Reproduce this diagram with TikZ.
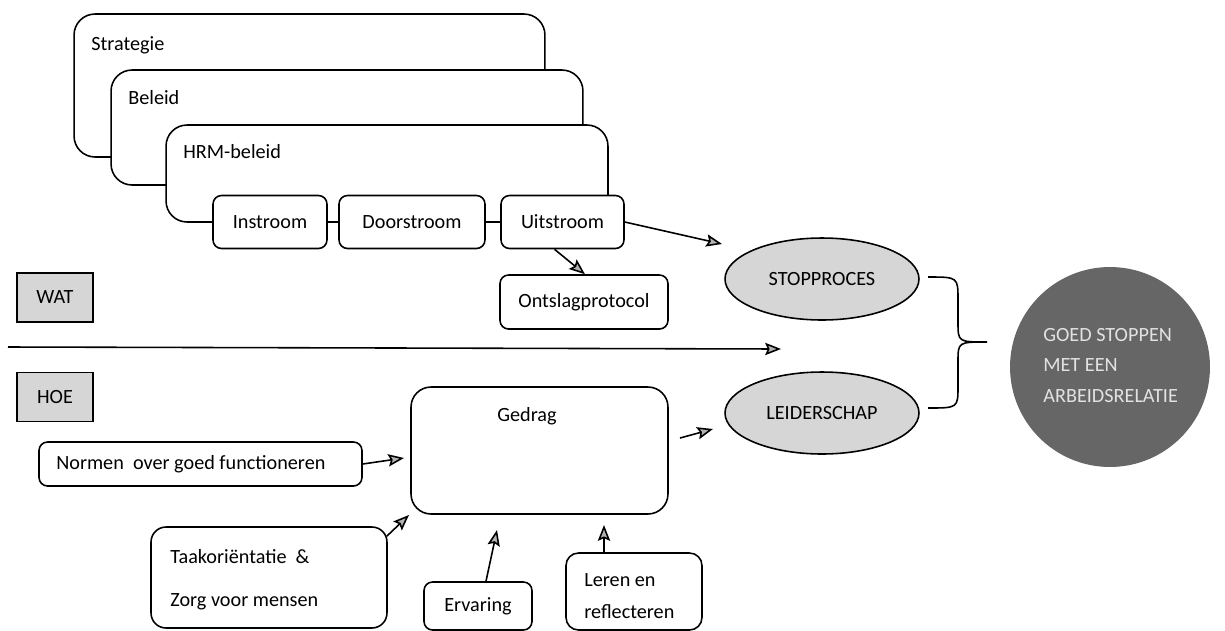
\documentclass[tikz,border=0pt]{standalone}
\usepackage{fontspec}
\setmainfont{Carlito}
\usetikzlibrary{shapes.geometric,arrows.meta,calc}
\definecolor{lgray}{HTML}{D6D6D6}
\definecolor{dgray}{HTML}{666666}
\definecolor{ctext}{HTML}{E2E2E2}
\tikzset{
  bigbox/.style={draw, line width=0.9pt, fill=white, rounded corners=0.42cm, inner sep=0pt},
  smallbox/.style={draw, line width=0.9pt, fill=white, rounded corners=0.17cm, inner sep=0pt},
  labbox/.style={draw, line width=0.9pt, fill=lgray, inner sep=0pt, minimum width=1.52cm, minimum height=0.98cm},
  oval/.style={draw, line width=0.9pt, ellipse, fill=lgray, inner sep=0pt, minimum width=3.88cm, minimum height=1.64cm},
  txt/.style={inner sep=0pt, anchor=west},
  conn/.style={line width=0.9pt},
  arr/.style={line width=0.9pt, -{Stealth[length=9pt,width=7pt,inset=1.5pt,fill=gray!60]}},
}
\begin{document}
\begin{tikzpicture}[x=0.02cm,y=-0.02cm, font=\fontsize{11.5}{13}\selectfont]
\useasboundingbox (0,0) rectangle (1225,630);
% stacked boxes
\node[bigbox, minimum width=9.42cm, minimum height=2.86cm] (strat) at (309.5,85.5) {};
\node[txt] (stratt) at (91,45) {Strategie};
\node[bigbox, minimum width=9.44cm, minimum height=2.3cm] (bel) at (347,127.5) {};
\node[txt] (belt) at (128,98) {Beleid};
\node[bigbox, minimum width=8.84cm, minimum height=1.94cm] (hrm) at (387,173.5) {};
\node[txt] (hrmt) at (183,152) {HRM-beleid};
% flow boxes
\node[smallbox, minimum width=2.28cm, minimum height=1.06cm] (inst) at (270,222) {Instroom};
\node[smallbox, minimum width=2.92cm, minimum height=1.06cm] (door) at (412,222) {Doorstroom};
\node[smallbox, minimum width=2.46cm, minimum height=1.06cm] (uit) at (562.5,222) {Uitstroom};
\draw[conn] (inst.east) -- (door.west);
\draw[conn] (door.east) -- (uit.west);
\node[smallbox, minimum width=3.36cm, minimum height=1.08cm] (ont) at (584,302) {Ontslagprotocol};
\draw[arr] ($(uit.south)+(-8,0)$) -- ($(ont.north)+(1,0)$);
% ellipses
\node[oval] (stop) at (822,279) {STOPPROCES};
\node[oval] (leid) at (822,413) {LEIDERSCHAP};
\coordinate (stoparr) at (722,244);
\draw[arr] (uit.east) -- (stoparr);
% WAT / HOE
\node[labbox] (wat) at (55,297.5) {WAT};
\node[labbox] (hoe) at (55,397) {HOE};
\coordinate (ls) at (8,347);
\coordinate (le) at (781,349);
\draw[arr] (ls) -- (le);
% brace
\coordinate (b1) at (928,277);
\coordinate (b2) at (928,408);
\coordinate (btip) at (987,342);
\draw[conn] (b1) .. controls (958,277) .. (958,300) -- (958,322) .. controls (958,342) .. (btip)
  .. controls (958,342) .. (958,362) -- (958,386) .. controls (958,408) .. (b2);
% circle
\node[circle, fill=dgray, minimum size=4.0cm, inner sep=0pt] (goal) at (1110,367) {};
\node[txt, text=ctext] (g1) at (1043,335) {GOED STOPPEN};
\node[txt, text=ctext] (g2) at (1043,365) {MET EEN};
\node[txt, text=ctext] (g3) at (1043,396) {ARBEIDSRELATIE};
% Gedrag
\node[smallbox, rounded corners=0.4cm, minimum width=5.14cm, minimum height=2.54cm] (ged) at (539.5,450.5) {};
\node (gedt) at (527,416) {Gedrag};
\coordinate (ga1) at (680,438);
\coordinate (ga2) at (713,429);
\draw[arr] (ga1) -- (ga2);
% Normen
\node[smallbox, minimum width=6.46cm, minimum height=0.88cm] (norm) at (200.5,464) {};
\node[txt] (normt) at (56,464) {Normen\ \ over goed functioneren};
\coordinate (na) at (404,458);
\draw[arr] (norm.east) -- (na);
% Taak
\node[smallbox, rounded corners=0.3cm, minimum width=4.72cm, minimum height=2.02cm] (taak) at (269,577.5) {};
\node[txt] (taak1) at (170,557) {Taakoriëntatie\ \ \&};
\node[txt] (taak2) at (170,602) {Zorg voor mensen};
\coordinate (ta) at (409,515);
\draw[arr] ($(taak.north east)+(-1,10)$) -- (ta);
% Ervaring
\node[smallbox, minimum width=2.16cm, minimum height=0.96cm] (erv) at (478,606) {Ervaring};
\coordinate (ea) at (497,530);
\draw[arr] ($(erv.north)+(8,0)$) -- (ea);
% Leren
\node[smallbox, rounded corners=0.25cm, minimum width=2.72cm, minimum height=1.54cm] (ler) at (634,591.5) {};
\node[txt] (ler1) at (584,580) {Leren en};
\node[txt] (ler2) at (584,612) {reflecteren};
\coordinate (la) at (604,525);
\draw[arr] (ler.north -| la) -- (la);
\end{tikzpicture}
\end{document}
